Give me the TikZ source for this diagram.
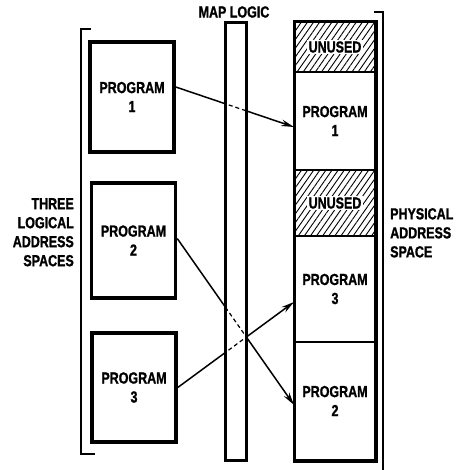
\documentclass[tikz,border=0pt]{standalone}
\usepackage{fontspec}
\setmainfont{Liberation Sans Bold}[FakeStretch=0.78,FakeBold=1.2]
\usetikzlibrary{patterns.meta,arrows.meta}
\tikzset{
  lab/.style={font=\fontsize{16}{19}\selectfont, align=center, inner sep=0pt},
  progbox/.style={draw, line width=3.5pt, minimum width=84pt, minimum height=110pt, lab},
  cell/.style={draw, line width=2pt, minimum width=80pt, lab},
  hatched/.style={pattern={Lines[angle=55,distance=5pt,line width=0.9pt]}},
  unusedtxt/.style={lab, fill=white, inner sep=1.5pt},
  conn/.style={line width=1.5pt, -{Stealth[length=13pt,width=6.5pt]}},
  dashpart/.style={line width=1.2pt, dash pattern=on 4pt off 3pt},
  brk/.style={line width=1.3pt},
}
\begin{document}
\begin{tikzpicture}[x=1pt,y=-1pt]
\useasboundingbox (0,0) rectangle (465,470);
% logical programs
\node[progbox] (p1) at (132,97) {PROGRAM\\1};
\node[progbox, minimum height=115pt] (p2) at (133.5,240.5) {PROGRAM\\2};
\node[progbox, minimum height=109pt] (p3) at (134,387.5) {PROGRAM\\3};
% physical cells
\node[cell, hatched, minimum height=50pt] (u1) at (335,47) {};
\node[unusedtxt] at (u1) {UNUSED};
\node[cell, minimum height=98pt] (q1) at (335,121) {PROGRAM\\1};
\node[cell, hatched, minimum height=66pt] (u2) at (335,203) {};
\node[unusedtxt] at (u2) {UNUSED};
\node[cell, minimum height=106pt] (q3) at (335,289) {PROGRAM\\3};
\node[cell, minimum height=118pt] (q2) at (335,401) {PROGRAM\\2};
\draw[line width=3pt] (u1.north west) rectangle (q2.south east);
% map logic bar
\node[minimum width=20pt, minimum height=437pt, inner sep=0pt] (bar) at (236,241.5) {};
% connectors
\draw[conn] ([yshift=10pt]p1.east) -- ([yshift=-6pt]q1.west);
\draw[conn] ([yshift=2pt]p2.east) -- ([yshift=-4pt]q2.west);
\draw[conn] (p3.east) -- ([yshift=-13pt]q3.west);
\begin{scope}
  \clip (bar.north west) rectangle (bar.south east);
  \fill[white] (bar.north west) rectangle (bar.south east);
  \draw[dashpart] ([yshift=10pt]p1.east) -- ([yshift=-6pt]q1.west);
  \draw[dashpart] ([yshift=2pt]p2.east) -- ([yshift=-4pt]q2.west);
  \draw[dashpart] (p3.east) -- ([yshift=-13pt]q3.west);
\end{scope}
\draw[line width=3pt] (bar.north west) rectangle (bar.south east);
\node[lab] (mt) at (234,12) {MAP LOGIC};
% brackets
\coordinate (lb1) at (91,29);
\coordinate (lb2) at (81,29);
\coordinate (lb3) at (81,454);
\coordinate (lb4) at (95,454);
\draw[brk] (lb1) -- (lb2) -- (lb3) -- (lb4);
\coordinate (rb1) at (374,12);
\coordinate (rb2) at (383,12);
\coordinate (rb3) at (383,470);
\draw[brk] (rb1) -- (rb2) -- (rb3);
% labels
\node[lab, align=right, anchor=north east] (ll) at (74,198) {THREE\\LOGICAL\\ADDRESS\\SPACES};
\node[lab, align=left, anchor=north west] (pl) at (390,208) {PHYSICAL\\ADDRESS\\SPACE};
\end{tikzpicture}
\end{document}
